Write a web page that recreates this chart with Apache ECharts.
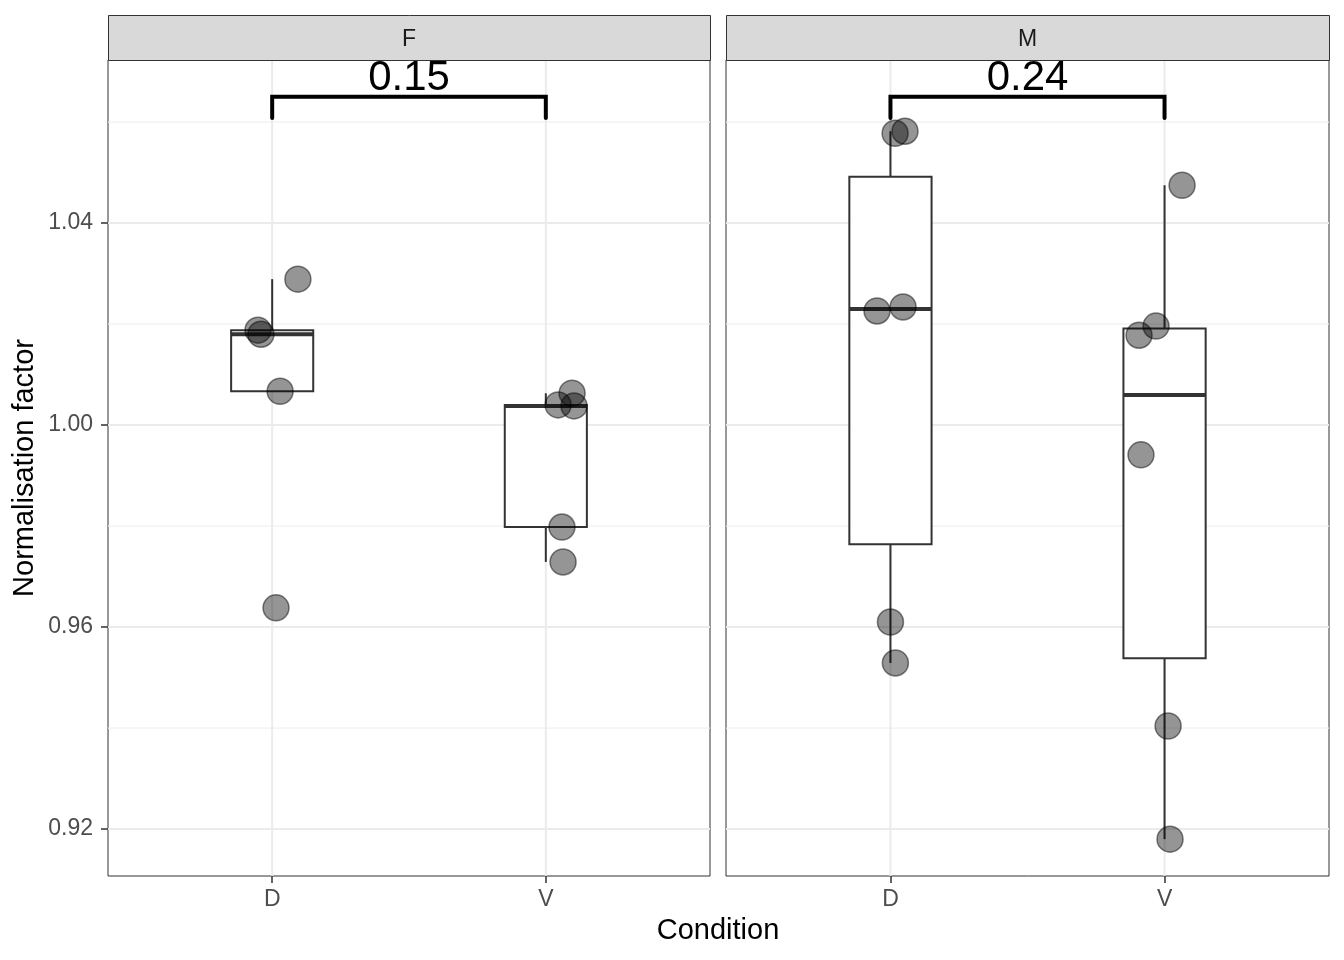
<!DOCTYPE html>
<html>
<head>
<meta charset="utf-8">
<script src="https://cdn.jsdelivr.net/npm/echarts@6/dist/echarts.min.js"></script>
<style>
html,body{margin:0;padding:0;background:#fff;}
#chart{width:1344px;height:960px;}
</style>
</head>
<body>
<div id="chart"></div>
<script>
// ---- data ----
const panels = ['F', 'M'];
const conditions = ['D', 'V'];
const yTicks = [0.92, 0.96, 1.00, 1.04];
const yMinorTicks = [0.94, 0.98, 1.02, 1.06];
// jittered x positions (category index 1 = D, 2 = V) and values
const F_D_x = [1.094, 0.948, 0.959, 1.029, 1.014];
const F_D_y = [1.0289, 1.0188, 1.0180, 1.0067, 0.9638];
const F_V_x = [2.096, 2.045, 2.103, 2.059, 2.063];
const F_V_y = [1.0063, 1.0040, 1.0038, 0.9798, 0.9729];
const M_D_x = [1.017, 1.053, 0.951, 1.046, 1.000, 1.018];
const M_D_y = [1.0578, 1.0582, 1.0226, 1.0234, 0.9610, 0.9529];
const M_V_x = [2.064, 1.907, 1.969, 1.914, 2.013, 2.020];
const M_V_y = [1.0475, 1.0178, 1.0196, 0.9941, 0.9404, 0.9180];
const pValues = ['0.15', '0.24'];
const bracketY = 1.0650;
const bracketDrop = 0.0042;

// ---- helpers ----
function quantile(sorted, p) {
  const h = (sorted.length - 1) * p;
  const lo = Math.floor(h), hi = Math.ceil(h);
  return sorted[lo] + (h - lo) * (sorted[hi] - sorted[lo]);
}
function boxStats(x, vals) {
  const s = vals.slice().sort((a, b) => a - b);
  const q1 = quantile(s, 0.25), med = quantile(s, 0.5), q3 = quantile(s, 0.75);
  const iqr = q3 - q1;
  const inside = s.filter(v => v >= q1 - 1.5 * iqr && v <= q3 + 1.5 * iqr);
  return [x, inside[0], q1, med, q3, inside[inside.length - 1]];
}
function zip(xs, ys) { return xs.map((x, i) => [x, ys[i]]); }

const panelData = [
  { boxes: [boxStats(1, F_D_y), boxStats(2, F_V_y)], pts: zip(F_D_x, F_D_y).concat(zip(F_V_x, F_V_y)) },
  { boxes: [boxStats(1, M_D_y), boxStats(2, M_V_y)], pts: zip(M_D_x, M_D_y).concat(zip(M_V_x, M_V_y)) }
];

const FONT = '"Liberation Sans", Arial, sans-serif';
const grids = [
  { left: 108, top: 60, width: 602, height: 816 },
  { left: 726, top: 60, width: 603, height: 816 }
];
const Y_MIN = 0.9107, Y_MAX = 1.0723;

const gridLineData = [];
yTicks.forEach(v => gridLineData.push([1.5, v, 0]));
yMinorTicks.forEach(v => gridLineData.push([1.5, v, 1]));
[1, 2].forEach(v => gridLineData.push([v, 1.0, 2]));

function renderGrid(params, api) {
  const cs = params.coordSys;
  const kind = api.value(2);
  if (kind === 2) {
    const x = api.coord([api.value(0), Y_MIN])[0];
    return { type: 'line', shape: { x1: x, y1: cs.y, x2: x, y2: cs.y + cs.height },
      style: { stroke: '#ebebeb', lineWidth: 2 } };
  }
  const y = api.coord([1.5, api.value(1)])[1];
  return { type: 'line', shape: { x1: cs.x, y1: y, x2: cs.x + cs.width, y2: y },
    style: { stroke: kind === 0 ? '#ebebeb' : '#f0f0f0', lineWidth: kind === 0 ? 2 : 1.2 } };
}

function renderBox(params, api) {
  const x = api.value(0);
  const lo = api.value(1), q1 = api.value(2), med = api.value(3), q3 = api.value(4), hi = api.value(5);
  const hw = 0.15;
  const pTL = api.coord([x - hw, q3]);
  const pBR = api.coord([x + hw, q1]);
  const cx = api.coord([x, med])[0];
  const yLo = api.coord([x, lo])[1], yHi = api.coord([x, hi])[1], yMed = api.coord([x, med])[1];
  const stroke = '#333333';
  return { type: 'group', children: [
    { type: 'line', shape: { x1: cx, y1: yHi, x2: cx, y2: pTL[1] }, style: { stroke, lineWidth: 2 } },
    { type: 'line', shape: { x1: cx, y1: pBR[1], x2: cx, y2: yLo }, style: { stroke, lineWidth: 2 } },
    { type: 'rect', shape: { x: pTL[0], y: pTL[1], width: pBR[0] - pTL[0], height: pBR[1] - pTL[1] },
      style: { fill: '#ffffff', stroke, lineWidth: 2 } },
    { type: 'line', shape: { x1: pTL[0], y1: yMed, x2: pBR[0], y2: yMed }, style: { stroke, lineWidth: 4 } }
  ]};
}

function renderBracket(params, api) {
  const y = api.value(1), drop = api.value(2);
  const a = api.coord([1, y]), b = api.coord([2, y]);
  const a2 = api.coord([1, y - drop]), b2 = api.coord([2, y - drop]);
  const label = pValues[api.value(3)];
  return { type: 'group', children: [
    { type: 'polyline', shape: { points: [a2, a, b, b2] },
      style: { stroke: '#000', lineWidth: 4, fill: null, lineCap: 'round', lineJoin: 'miter' } },
    { type: 'text', x: (a[0] + b[0]) / 2, y: a[1] - 18,
      style: { text: label, fontSize: 42, fontFamily: FONT, fill: '#000', align: 'center', verticalAlign: 'middle' } }
  ]};
}

const xAxes = [], yAxes = [], series = [];
grids.forEach((g, i) => {
  xAxes.push({
    type: 'value', gridIndex: i, min: 0.4, max: 2.6,
    axisLine: { show: false },
    splitLine: { show: false },
    axisTick: { show: true, customValues: [1, 2], length: 7, lineStyle: { color: '#333', width: 1.5 } },
    axisLabel: { customValues: [1, 2], formatter: v => conditions[Math.round(v) - 1], color: '#4d4d4d',
      fontSize: 23, fontFamily: FONT, margin: 12 }
  });
  yAxes.push({
    type: 'value', gridIndex: i, min: Y_MIN, max: Y_MAX,
    axisLine: { show: false },
    splitLine: { show: false },
    axisTick: { show: i === 0, customValues: yTicks, length: 7, lineStyle: { color: '#333', width: 1.5 } },
    axisLabel: { show: i === 0, customValues: yTicks, formatter: v => v.toFixed(2), color: '#4d4d4d',
      fontSize: 23, fontFamily: FONT, margin: 15, padding: [4, 0, 0, 0] }
  });
  series.push({ type: 'custom', xAxisIndex: i, yAxisIndex: i, z: 1, silent: true, clip: false,
    renderItem: renderGrid, data: gridLineData });
  series.push({ type: 'custom', xAxisIndex: i, yAxisIndex: i, z: 2, silent: true,
    renderItem: renderBox, encode: { x: 0, y: [1, 2, 3, 4, 5] }, data: panelData[i].boxes });
  series.push({ type: 'scatter', xAxisIndex: i, yAxisIndex: i, z: 3, silent: true,
    symbol: 'circle', symbolSize: 26,
    itemStyle: { color: 'rgba(0,0,0,0.52)', borderColor: 'rgba(0,0,0,0.6)', borderWidth: 1.5 },
    data: panelData[i].pts });
  series.push({ type: 'custom', xAxisIndex: i, yAxisIndex: i, z: 4, silent: true, clip: false,
    renderItem: renderBracket, data: [[1.5, bracketY, bracketDrop, i]] });
});

const graphic = [];
grids.forEach((g, i) => {
  graphic.push({ type: 'rect', left: g.left, top: 15, shape: { width: g.width, height: 45 },
    style: { fill: '#d9d9d9', stroke: '#333', lineWidth: 1 }, z: 10 });
  graphic.push({ type: 'text', x: g.left + g.width / 2, y: 40,
    style: { text: panels[i], fontSize: 23, fontFamily: FONT, fill: '#1a1a1a', align: 'center', verticalAlign: 'middle' }, z: 11 });
});
graphic.push({ type: 'text', x: 718, y: 931,
  style: { text: 'Condition', fontSize: 29, fontFamily: FONT, fill: '#000', align: 'center', verticalAlign: 'middle' } });
graphic.push({ type: 'text', x: 25, y: 468, rotation: Math.PI / 2,
  style: { text: 'Normalisation factor', fontSize: 29, fontFamily: FONT, fill: '#000', align: 'center', verticalAlign: 'middle' } });

const chart = echarts.init(document.getElementById('chart'), null, { renderer: 'canvas' });
chart.setOption({
  animation: false,
  backgroundColor: '#ffffff',
  grid: grids.map(g => Object.assign({ show: true, borderColor: '#333', borderWidth: 1, backgroundColor: '#fff' }, g)),
  xAxis: xAxes,
  yAxis: yAxes,
  series: series,
  graphic: graphic
});
</script>
</body>
</html>
